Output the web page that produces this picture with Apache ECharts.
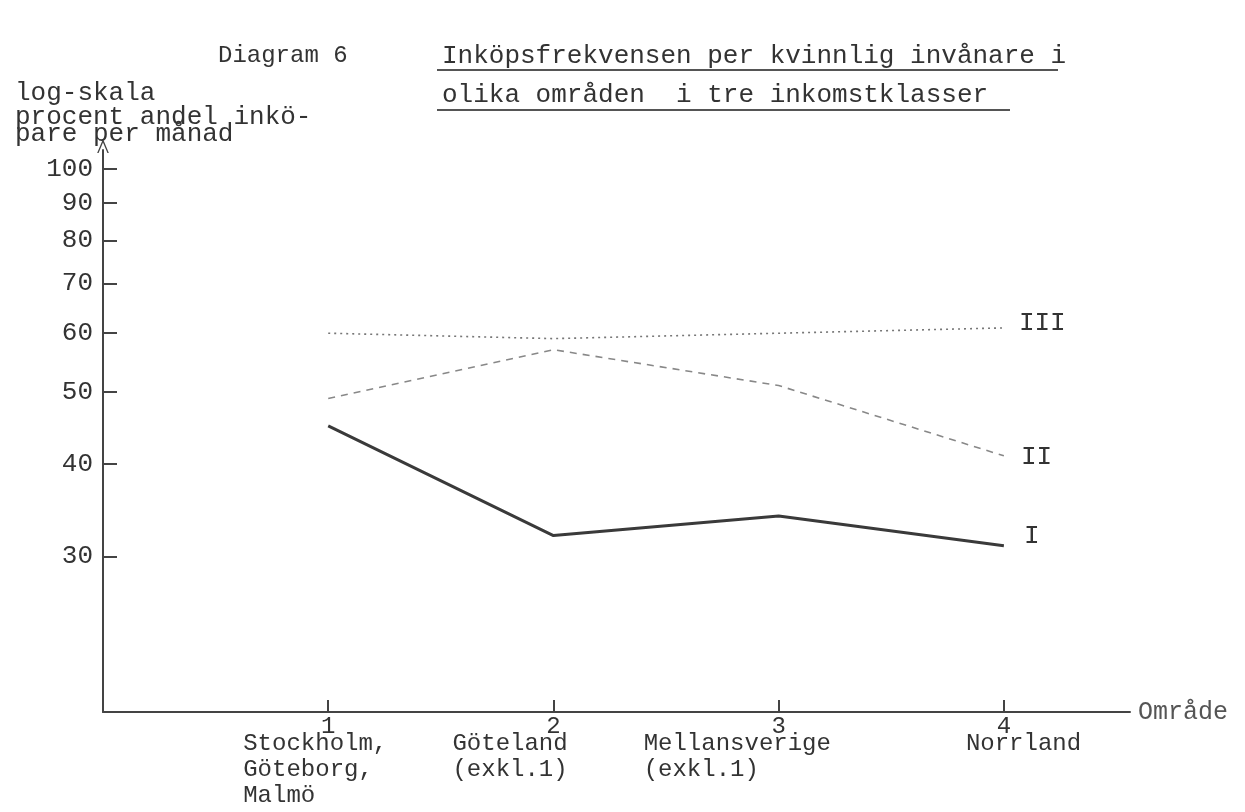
<!DOCTYPE html>
<html>
<head>
<meta charset="utf-8">
<script src="https://cdn.jsdelivr.net/npm/echarts@6/dist/echarts.min.js"></script>
<style>
html,body{margin:0;padding:0;background:#fff}
#pic{width:1245px;height:812px}
</style>
</head>
<body>
<div id="pic"></div>
<script>
// områden 1-4, andel inköpare per månad (procent, log-skala) i tre inkomstklasser
var omraden = [1, 2, 3, 4];
var omradeNamn = [
    ['Stockholm,', 'Göteborg,', 'Malmö'],
    ['Göteland', '(exkl.1)'],
    ['Mellansverige', '(exkl.1)'],
    ['Norrland']
];
var klassI = [45, 32, 34, 31];
var klassII = [49, 57, 51, 41];
var klassIII = [60, 59, 60, 61];
var yTicks = [30, 40, 50, 60, 70, 80, 90, 100];
var klassNamn = ['I', 'II', 'III'];

var mono = '"Liberation Mono", "DejaVu Sans Mono", monospace';
var ink = '#333';

// bredd på etikettblocket under varje område (namnen vänsterställda)
var blockW = [170, 202, 270, 76];

function pairs(vals) {
    return omraden.map(function (x, i) { return [x, vals[i]]; });
}

var rich = {};
blockW.forEach(function (w, i) {
    rich['n' + i] = { width: w, align: 'center', fontFamily: mono, fontSize: 24, lineHeight: 8, color: ink };
    rich['t' + i] = { width: w, align: 'left', fontFamily: mono, fontSize: 24, lineHeight: 26, color: ink };
});

var myChart = echarts.init(document.getElementById('pic'));

var option = {
    backgroundColor: '#fff',
    animation: false,
    title: [
        { text: 'Diagram 6', left: 213, top: 39, textStyle: { fontFamily: mono, fontSize: 24, fontWeight: 'normal', color: ink } },
        { text: 'Inköpsfrekvensen per kvinnlig invånare i', left: 437, top: 38, textStyle: { fontFamily: mono, fontSize: 26, fontWeight: 'normal', color: ink } },
        { text: 'olika områden  i tre inkomstklasser', left: 437, top: 77, textStyle: { fontFamily: mono, fontSize: 26, fontWeight: 'normal', color: ink } },
        { text: 'log-skala', left: 10, top: 75, textStyle: { fontFamily: mono, fontSize: 26, fontWeight: 'normal', color: ink } },
        { text: 'procent andel inkö-\npare per månad', left: 10, top: 104, textStyle: { fontFamily: mono, fontSize: 26, lineHeight: 17, fontWeight: 'normal', color: ink } }
    ],
    graphic: [
        { type: 'line', shape: { x1: 437, y1: 70, x2: 1058, y2: 70 }, style: { stroke: '#555', lineWidth: 2 } },
        { type: 'line', shape: { x1: 437, y1: 110, x2: 1010, y2: 110 }, style: { stroke: '#555', lineWidth: 2 } }
    ],
    grid: { left: 103, right: 115, top: 150, bottom: 100, containLabel: false, outerBoundsMode: 'none' },
    xAxis: {
        type: 'value',
        min: 0,
        max: 4.56,
        name: 'Område',
        nameLocation: 'end',
        nameGap: 8,
        nameTextStyle: { fontFamily: mono, fontSize: 25, color: '#555' },
        splitLine: { show: false },
        axisLine: { lineStyle: { color: '#444', width: 2 } },
        axisTick: { show: true, inside: true, length: 12, customValues: omraden, lineStyle: { color: '#444', width: 2 } },
        axisLabel: {
            customValues: omraden,
            margin: 11,
            formatter: function (v) {
                var i = omraden.indexOf(v);
                var s = '{n' + i + '|' + v + '}';
                omradeNamn[i].forEach(function (t) { s += '\n{t' + i + '|' + t + '}'; });
                return s;
            },
            rich: rich
        }
    },
    yAxis: {
        type: 'log',
        logBase: 10,
        min: 18.5,
        max: 106,
        splitLine: { show: false },
        axisLine: {
            show: true,
            symbol: ['none', 'path://M0,12 L5,0 L10,12 L8.8,12 L5,3 L1.2,12 Z'],
            symbolSize: [12, 14],
            symbolOffset: [0, 4],
            lineStyle: { color: '#444', width: 2 }
        },
        axisTick: { show: true, inside: true, length: 14, customValues: yTicks, lineStyle: { color: '#444', width: 2 } },
        axisLabel: { customValues: yTicks, margin: 10, fontFamily: mono, fontSize: 26, color: ink }
    },
    series: [
        {
            name: 'I', type: 'line', data: pairs(klassI), symbol: 'none',
            lineStyle: { color: '#3a3a3a', width: 3 },
            endLabel: { show: true, formatter: klassNamn[0], distance: 20, offset: [0, -10], fontFamily: mono, fontSize: 26, color: ink }
        },
        {
            name: 'II', type: 'line', data: pairs(klassII), symbol: 'none',
            lineStyle: { color: '#888', width: 1.6, type: [7, 6] },
            endLabel: { show: true, formatter: klassNamn[1], distance: 17, offset: [0, 1], fontFamily: mono, fontSize: 26, color: ink }
        },
        {
            name: 'III', type: 'line', data: pairs(klassIII), symbol: 'none',
            lineStyle: { color: '#777', width: 1.6, type: [2, 4] },
            endLabel: { show: true, formatter: klassNamn[2], distance: 15, offset: [0, -5], fontFamily: mono, fontSize: 26, color: ink }
        }
    ]
};

myChart.setOption(option);
</script>
</body>
</html>
